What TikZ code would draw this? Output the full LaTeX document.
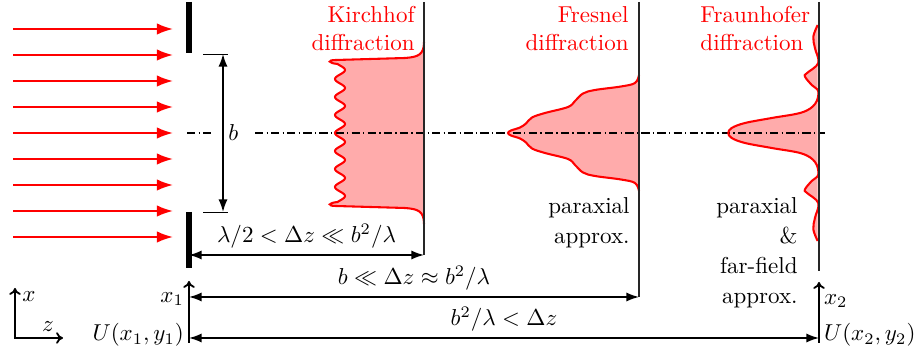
\documentclass[tikz,border=0pt]{standalone}
\usepackage{amsmath,amssymb}
\usetikzlibrary{arrows.meta}

\tikzset{
  ray/.style={red, line width=0.9pt, -{Latex[length=7pt,width=5pt]}},
  dimline/.style={line width=0.7pt, {Latex[length=5.5pt,width=4pt]}-{Latex[length=5.5pt,width=4pt]}},
  screen/.style={black!85, line width=0.75pt},
  profile/.style={red, line width=0.9pt},
  profilefill/.style={red!33},
  axisarrow/.style={line width=0.8pt, -{To[length=3pt,width=5pt]}},
  optaxis/.style={line width=0.6pt, dash pattern=on 3.6pt off 1.4pt on 0.6pt off 1.4pt},
  textlabel/.style={align=right, inner sep=0pt, anchor=north east},
}

\begin{document}
\begin{tikzpicture}[x=0.4348pt, y=-0.4348pt]
    \useasboundingbox (0,0) rectangle (914,354);
    \def\xs{189}
    \def\xk{424}
    \def\xf{639}
    \def\xh{819}
    % incoming plane wave
    \foreach \y in {29,55,...,237}
      \draw[ray] (13,\y) -- (173,\y);
    % slit
    \draw[line width=2.2pt] (\xs,2) -- (\xs,53);
    \draw[line width=2.2pt] (\xs,212) -- (\xs,268);
    \draw[thin] (203,54) -- (228,54);
    \draw[thin] (203,212) -- (228,212);
    % profiles
    \def\kirchpath{(\xk,42) .. controls (\xk,55) and (418,57) .. (405,58) -- (336,60)
      .. controls (327,60) and (328,63) .. (337.5,64)
      -- plot[domain=64:202, samples=139, smooth] ({340-5*cos(20*(\x-133))},\x)
      .. controls (328,203) and (327,206) .. (336,206) -- (405,208)
      .. controls (418,209) and (\xk,211) .. (\xk,224)}
    \def\fresnelpath{plot[smooth, tension=0.6] coordinates {(\xf,75) (635,83) (621,86.5)
      (595,90) (583,93.5) (575,101) (568,107) (545,113) (532,117.5) (526,123.5) (520,127.5)
      (511,130.5) (508,133) (511,135.5) (520,138.5) (526,142.5) (532,148.5) (545,153)
      (568,159) (575,165) (583,172.5) (595,176) (621,179.5) (635,183) (\xf,191)}}
    \def\fraunpath{plot[smooth, tension=0.6] coordinates {(817.7,25) (813.3,36.7) (815,48.3)
      (818.3,63) (806.7,73.3) (805,76.7) (811.7,85) (818.3,91.5) (815,104) (801.7,112.5)
      (771.7,118) (745,123) (731.7,128) (728.3,133) (731.7,138) (745,143) (771.7,148)
      (801.7,153.5) (815,162) (818.3,174.5) (811.7,181) (805,189.3) (806.7,192.7)
      (818.3,203) (815,217.7) (813.3,229.3) (817.7,241)}}
    \fill[profilefill] \kirchpath -- cycle;
    \fill[profilefill] \fresnelpath -- cycle;
    \fill[profilefill] \fraunpath -- cycle;
    % optical axis
    \draw[optaxis] (187,133) -- (213,133);
    \draw[optaxis] (255,133) -- (825,133);
    \draw[dimline] (223,54) -- node[right, inner sep=2pt]{$b$} (223,212);
    \draw[profile] \kirchpath;
    \draw[profile] \fresnelpath;
    \draw[profile] \fraunpath;
    % screens
    \draw[screen] (\xk,2) -- (\xk,255);
    \draw[screen] (\xf,2) -- (\xf,297);
    \draw[screen] (\xh,2) -- (\xh,271);
    \node[textlabel, red] at (415,6) {Kirchhof\\diffraction};
    \node[textlabel, red] at (629,6) {Fresnel\\diffraction};
    \node[textlabel, red, align=left, anchor=north west] at (700,6) {Fraunhofer\\diffraction};
    \node[textlabel] at (630,197) {paraxial\\[1pt]approx.};
    \node[textlabel] at (798,197) {paraxial\\[1pt]\&\\[1pt]far-field\\[1pt]approx.};
    % distances
    \draw[dimline] (\xs,255) -- node[above, inner sep=2.5pt]{$\lambda/2<\Delta z\ll b^2/\lambda$} (\xk,255);
    \draw[dimline] (\xs,297) -- node[above, inner sep=2.5pt]{$b\ll\Delta z\approx b^2/\lambda$} (\xf,297);
    \draw[dimline] (\xs,338) -- node[above, inner sep=2.5pt]{$b^2/\lambda<\Delta z$} (\xh,338);
    % planes
    \draw[axisarrow] (\xs,343) -- (\xs,281);
    \node[left, inner sep=2pt] at (\xs,299) {$x_1$};
    \node[left, inner sep=2pt] at (\xs,335) {$U(x_1,y_1)$};
    \draw[axisarrow] (\xh,343) -- (\xh,282);
    \node[right, inner sep=2pt] at (\xh,301) {$x_2$};
    \node[right, inner sep=2pt] at (\xh,335) {$U(x_2,y_2)$};
    % coordinate system
    \draw[axisarrow, {To[length=3pt,width=5pt]}-{To[length=3pt,width=5pt]}] (15,288) -- (15,338) -- (63,338);
    \node at (29,297) {$x$};
    \node at (48,327) {$z$};
\end{tikzpicture}
\end{document}
